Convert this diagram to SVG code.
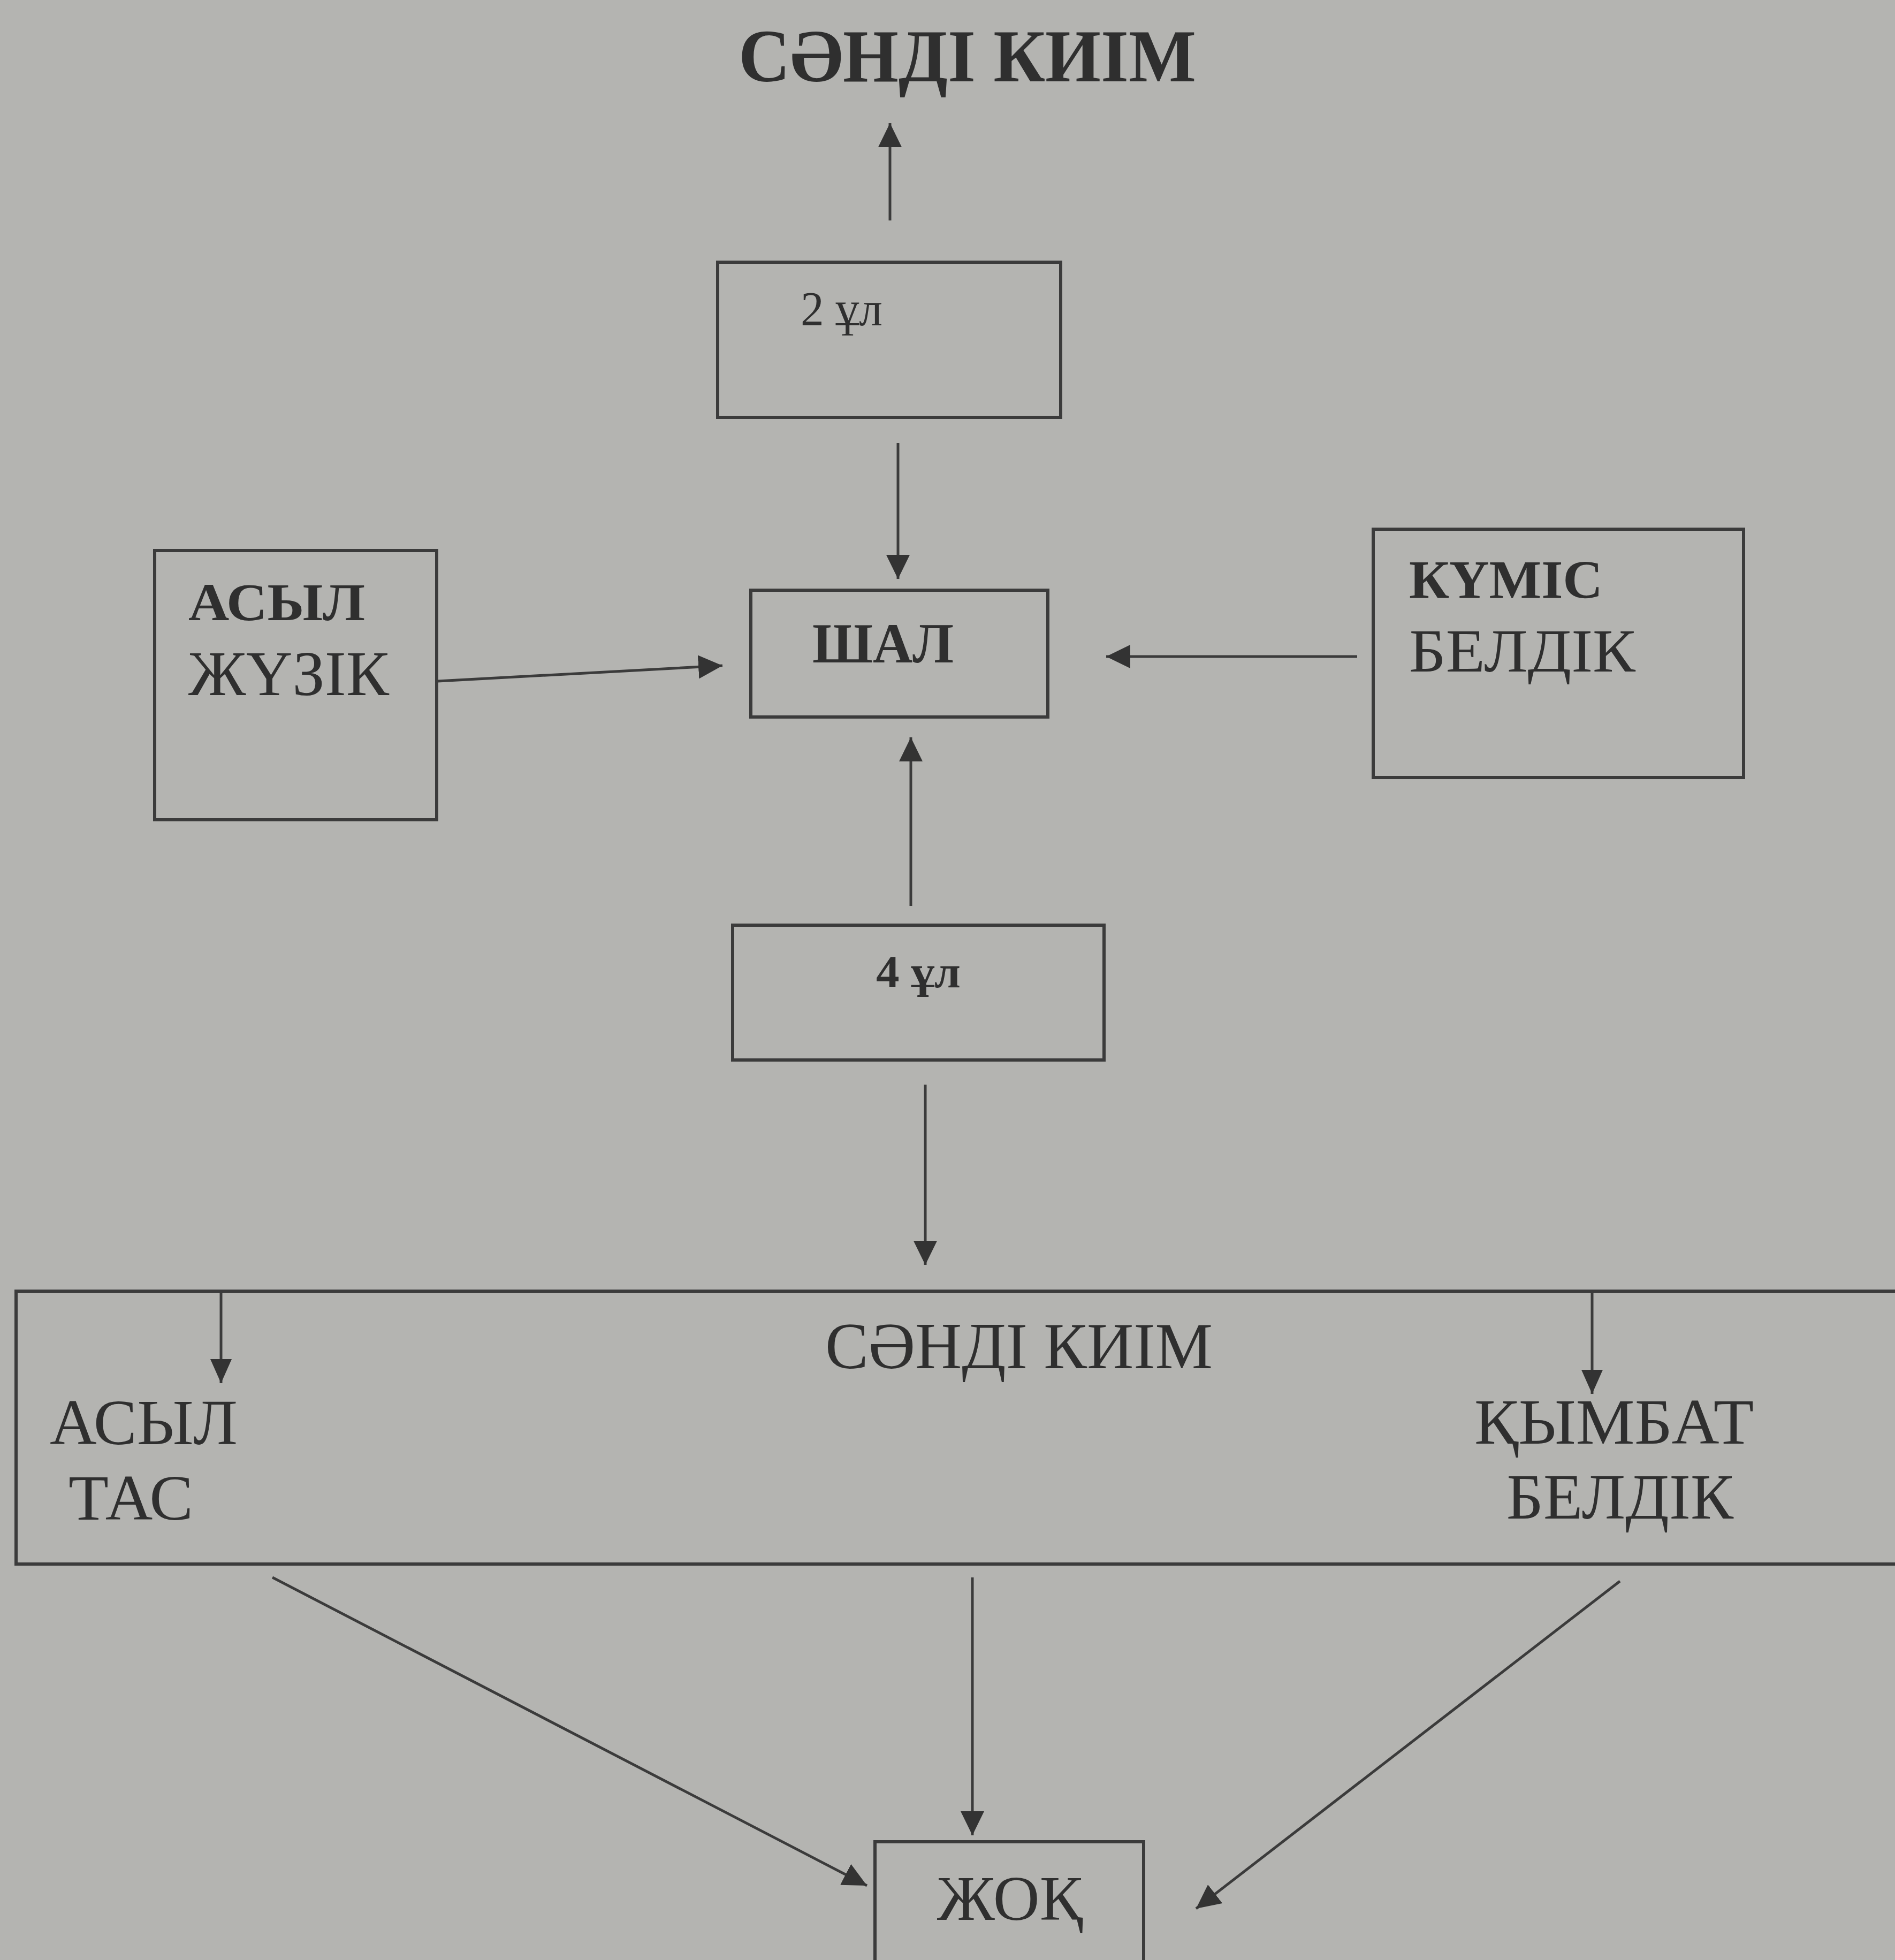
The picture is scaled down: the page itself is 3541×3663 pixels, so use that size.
<svg xmlns="http://www.w3.org/2000/svg" width="3541" height="3663" viewBox="0 0 3541 3663">
<style>
.bg{fill:#b4b4b1}
.box{fill:none;stroke:#3b3b3b;stroke-width:6}
.con{fill:none;stroke:#3b3b3b;stroke-width:5}
text{font-family:"Liberation Serif","DejaVu Serif",serif;fill:#2f2f2f}
.b{font-weight:bold}
</style>
<defs>
<marker id="ah" viewBox="0 0 45 44" refX="45" refY="22" markerWidth="45" markerHeight="44" markerUnits="userSpaceOnUse" orient="auto">
<path d="M0,0 L45,22 L0,44 z" fill="#333"/>
</marker>
<marker id="ahs" viewBox="0 0 45 40" refX="45" refY="20" markerWidth="45" markerHeight="40" markerUnits="userSpaceOnUse" orient="auto">
<path d="M0,0 L45,20 L0,40 z" fill="#333"/>
</marker>
</defs>
<rect class="bg" x="0" y="0" width="3541" height="3663"/>

<g id="title">
<text class="b" x="1380" y="152" font-size="140" textLength="855" lengthAdjust="spacingAndGlyphs">СӘНДІ КИІМ</text>
</g>

<g id="node-2ul">
<rect class="box" x="1341" y="490" width="641" height="290"/>
<text x="1496" y="608" font-size="90" textLength="153" lengthAdjust="spacingAndGlyphs">2 ұл</text>
</g>

<g id="node-shal">
<rect class="box" x="1403" y="1103" width="555" height="237"/>
<text class="b" x="1518" y="1238" font-size="106" textLength="264" lengthAdjust="spacingAndGlyphs">ШАЛ</text>
</g>

<g id="node-asyl-zhuzik">
<rect class="box" x="289" y="1029" width="527" height="503"/>
<text class="b" x="352" y="1159" font-size="100" textLength="330" lengthAdjust="spacingAndGlyphs">АСЫЛ</text>
<text x="352" y="1299" font-size="118" textLength="375" lengthAdjust="spacingAndGlyphs">ЖҮЗІК</text>
</g>

<g id="node-kumis-beldik">
<rect class="box" x="2566" y="989" width="692" height="464"/>
<text class="b" x="2633" y="1118" font-size="102" textLength="362" lengthAdjust="spacingAndGlyphs">КҮМІС</text>
<text x="2633" y="1255" font-size="115" textLength="423" lengthAdjust="spacingAndGlyphs">БЕЛДІК</text>
</g>

<g id="node-4ul">
<rect class="box" x="1369" y="1729" width="694" height="252"/>
<text class="b" x="1637" y="1845" font-size="84" textLength="158" lengthAdjust="spacingAndGlyphs">4 ұл</text>
</g>

<g id="node-sandi-kiim">
<rect class="box" x="30" y="2413" width="3560" height="510"/>
<text x="1542" y="2557" font-size="122" textLength="724" lengthAdjust="spacingAndGlyphs">СӘНДІ КИІМ</text>
<text x="93" y="2699" font-size="120" textLength="351" lengthAdjust="spacingAndGlyphs">АСЫЛ</text>
<text x="128" y="2840" font-size="120" textLength="233" lengthAdjust="spacingAndGlyphs">ТАС</text>
<text x="2755" y="2698" font-size="120" textLength="522" lengthAdjust="spacingAndGlyphs">ҚЫМБАТ</text>
<text x="2815" y="2838" font-size="120" textLength="424" lengthAdjust="spacingAndGlyphs">БЕЛДІК</text>
</g>

<g id="node-zhoq">
<rect class="box" x="1635" y="3442" width="502" height="260"/>
<text x="1751" y="3588" font-size="118" textLength="272" lengthAdjust="spacingAndGlyphs">ЖОҚ</text>
</g>

<g id="connectors">
<line class="con" x1="1663" y1="412" x2="1663" y2="230" marker-end="url(#ah)"/>
<line class="con" x1="1678" y1="828" x2="1678" y2="1082" marker-end="url(#ah)"/>
<line class="con" x1="1702" y1="1693" x2="1702" y2="1378" marker-end="url(#ah)"/>
<line class="con" x1="1729" y1="2027" x2="1729" y2="2364" marker-end="url(#ah)"/>
<line class="con" x1="818" y1="1273" x2="1350" y2="1244" marker-end="url(#ah)"/>
<line class="con" x1="2536" y1="1227" x2="2067" y2="1227" marker-end="url(#ah)"/>
<line class="con" x1="413" y1="2414" x2="413" y2="2585" marker-end="url(#ahs)"/>
<line class="con" x1="2975" y1="2412" x2="2975" y2="2605" marker-end="url(#ahs)"/>
<line class="con" x1="509" y1="2948" x2="1620" y2="3524" marker-end="url(#ah)"/>
<line class="con" x1="1817" y1="2948" x2="1817" y2="3430" marker-end="url(#ah)"/>
<line class="con" x1="3027" y1="2955" x2="2235" y2="3567" marker-end="url(#ah)"/>
</g>
</svg>
